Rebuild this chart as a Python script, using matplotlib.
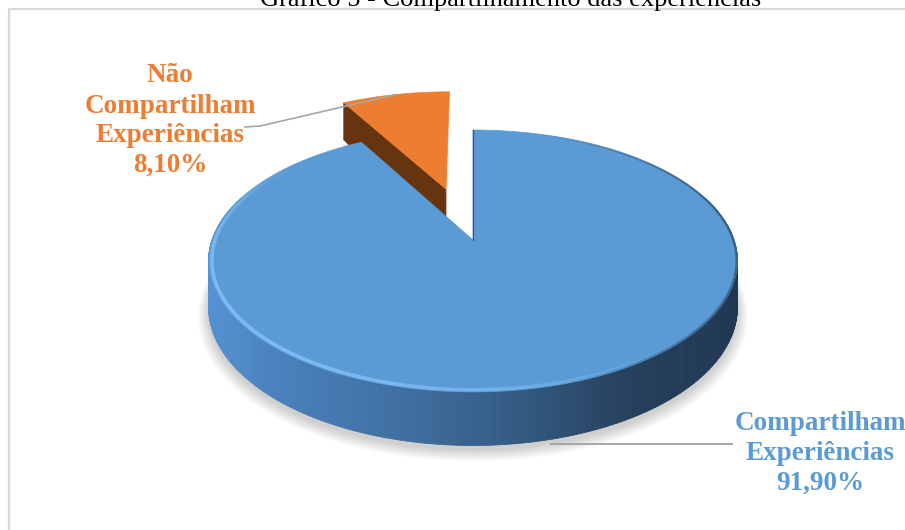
import numpy as np
import matplotlib
matplotlib.use("Agg")
import matplotlib.pyplot as plt
from matplotlib.patches import Polygon
from matplotlib.collections import PolyCollection, LineCollection
from matplotlib.colors import to_rgb

# ---------------- data ----------------
categories = ["Compartilham Experiências", "Não Compartilham Experiências"]
values = [91.9, 8.1]
value_labels = ["91,90%", "8,10%"]
title_text = "Gráfico 5 - Compartilhamento das experiências"

top_colors = ["#5B9BD5", "#ED7D31"]
label_colors = ["#5B9BD5", "#ED7D31"]
explode = [0.0, 0.44]

FONT = ["Liberation Serif", "DejaVu Serif"]

# ---------------- canvas ----------------
W, H = 905, 530
fig = plt.figure(figsize=(W / 100, H / 100), dpi=100)
ax = fig.add_axes([0, 0, 1, 1])
ax.set_xlim(0, W)
ax.set_ylim(H, 0)
ax.axis("off")

# chart frame (light grey, partially outside the picture)
ax.plot([9, 9, W + 5], [H + 5, 9, 9], color="#D9D9D9", lw=1.6,
        solid_capstyle="butt", zorder=1)

# title (cut at top of picture, as in the reference)
ax.text(511, 6, title_text, ha="center", va="baseline", fontsize=19,
        family=FONT, color="black", zorder=10)

# ---------------- 3D pie projection ----------------
CX, CY = 473.0, 240.0      # projected centre of the pie
R, A, K, TH = 261.0, 127.6, 0.16, 45.0


def proj(x, z, h=0.0):
    x = np.asarray(x, float)
    z = np.asarray(z, float)
    s = 1.0 / (1.0 + K * z)
    return CX + R * x * s, CY - A * z * s + TH * h * s


total = float(sum(values))
spans = []
start = 0.0
for v in values:
    end = start + 360.0 * v / total
    spans.append((start, end))
    start = end


def geom(i, n=240, r=1.0):
    a0, a1 = spans[i]
    mid = np.radians((a0 + a1) / 2)
    dx, dz = explode[i] * np.sin(mid), explode[i] * np.cos(mid)
    th = np.radians(np.linspace(a0, a1, n))
    return dx, dz, th, dx + r * np.sin(th), dz + r * np.cos(th)


# ---- soft shadow under each slice ----
for i in range(len(values)):
    for j in range(7):
        sc = 1.0 + 0.006 * j
        dx, dz, th, xs, zs = geom(i, n=300, r=sc)
        sx, sy = proj(np.r_[dx, xs], np.r_[dz, zs] - 0.01, 1.0)
        ax.add_patch(Polygon(np.column_stack([sx, sy + 3 + j * 0.6]), closed=True,
                             facecolor="black", edgecolor="none",
                             alpha=0.026 if i == 0 else 0.012, zorder=2))

# ---- orange (exploded) slice: drawn first, it's behind ----
i = 1
dx, dz, th, xs, zs = geom(i)
vx0, vy0 = proj(dx, dz, 0)
vx1, vy1 = proj(dx, dz, 1)
ox0, oy0 = proj(xs[0], zs[0], 0)
ox1, oy1 = proj(xs[0], zs[0], 1)
ax.add_patch(Polygon([[vx0, vy0], [ox0, oy0], [ox1, oy1], [vx1, vy1]],
                     closed=True, facecolor="#66350F", edgecolor="#66350F",
                     lw=0.5, zorder=3))
px, py = proj(xs, zs, 0)
ax.add_patch(Polygon(np.column_stack([np.r_[vx0, px], np.r_[vy0, py]]),
                     closed=True, facecolor=top_colors[i], edgecolor=top_colors[i],
                     lw=0.5, zorder=4))

# ---- blue slice ----
i = 0
dx, dz, th, xs, zs = geom(i, n=500)
# side wall with horizontal gradient
stops_u = [0.0, 0.12, 0.38, 0.6, 0.8, 1.0]
stops_c = [to_rgb(c) for c in ["#5592D2", "#4A82BE", "#3F6EA0", "#33597F",
                               "#263F5C", "#213851"]]
left_x, right_x = CX - R * 1.013, CX + R * 1.013
tx, ty = proj(xs, zs, 0)
bx, by = proj(xs, zs, 1)
quads, cols = [], []
for j in range(len(xs) - 1):
    if np.cos((th[j] + th[j + 1]) / 2) > 0.35:
        continue
    quads.append([[tx[j], ty[j]], [tx[j + 1], ty[j + 1]],
                  [bx[j + 1], by[j + 1]], [bx[j], by[j]]])
    u = np.clip(((tx[j] + tx[j + 1]) / 2 - left_x) / (right_x - left_x), 0, 1)
    cols.append([np.interp(u, stops_u, [c[k] for c in stops_c]) for k in range(3)])
ax.add_collection(PolyCollection(quads, facecolors=cols, edgecolors=cols,
                                 linewidths=0.6, zorder=5))
# top face
vx0, vy0 = proj(dx, dz, 0)
ax.add_patch(Polygon(np.column_stack([np.r_[vx0, tx], np.r_[vy0, ty]]),
                     closed=True, facecolor=top_colors[i], edgecolor=top_colors[i],
                     lw=0.5, zorder=6))
# bevel highlight along the front rim
_, _, th2, xr, zr = geom(i, n=500, r=0.988)
rx, ry = proj(xr, zr, 0)
segs = [[[rx[j], ry[j]], [rx[j + 1], ry[j + 1]]] for j in range(len(rx) - 1)]
sx_, sz_ = np.sin(th2[:-1]), np.cos(th2[:-1])
hl = np.clip(-(0.7 * sx_ + 0.75 * sz_), 0, 1)
hl_cols = [(0.50, 0.74, 0.96, 0.7 * h ** 1.4) for h in hl]
ax.add_collection(LineCollection(segs, colors=hl_cols, linewidths=2.6,
                                 capstyle="round", zorder=7))
dk = np.clip(1.25 * sx_ - 0.35, 0, 1)
dk_cols = [(0.14, 0.24, 0.35, 0.7 * d) for d in dk]
_, _, _, xr2, zr2 = geom(i, n=500, r=0.997)
rx2, ry2 = proj(xr2, zr2, 0)
segs2 = [[[rx2[j], ry2[j]], [rx2[j + 1], ry2[j + 1]]] for j in range(len(rx2) - 1)]
ax.add_collection(LineCollection(segs2, colors=dk_cols, linewidths=1.6, zorder=7))
# radial cut edge at 12 o'clock
ex, ey = proj([dx, xs[0]], [dz, zs[0]], 0)
ax.plot(ex, ey, color="#2F5A85", lw=0.9, zorder=7)

# ---------------- leader lines & labels ----------------
LEADER = "#A6A6A6"
# orange slice label
a0, a1 = spans[1]
mid = np.radians((a0 + a1) / 2)
mx, my = proj((1 + explode[1]) * np.sin(mid), (1 + explode[1]) * np.cos(mid), 0)
ax.plot([mx, 260, 245], [my, 126, 127], color=LEADER, lw=1.2, zorder=8)
# blue slice label
a0, a1 = spans[0]
mid = np.radians((a0 + a1) / 2)
mx, my = proj(np.sin(mid), np.cos(mid), 1)
ax.plot([mx, 732], [my + 5, my + 5], color=LEADER, lw=1.4, zorder=8)

label_pos = [(820, [430, 460, 490]), (170, [82, 113, 142, 172])]
for k in range(len(values)):
    lines = categories[k].split(" ") + [value_labels[k]]
    cx_, ys = label_pos[k]
    for line, yb in zip(lines, ys):
        ax.text(cx_, yb, line, ha="center", va="baseline", fontsize=19.5,
                fontweight="bold", family=FONT, color=label_colors[k], zorder=9)

fig.savefig("out.png", dpi=100)
